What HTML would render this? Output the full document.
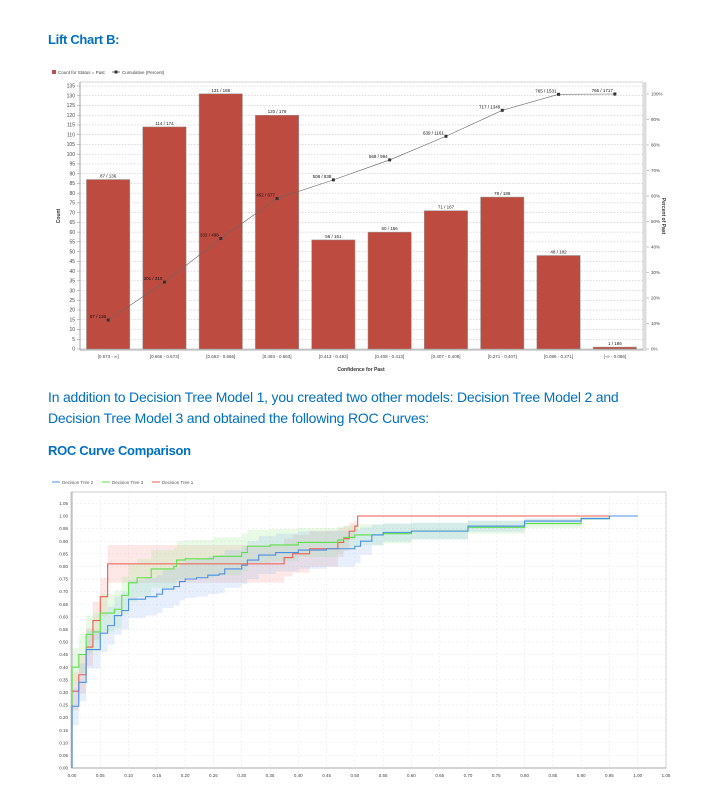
<!DOCTYPE html>
<html><head><meta charset="utf-8">
<style>
body{margin:0;background:#fff;width:718px;height:807px;overflow:hidden;font-family:"Liberation Sans",sans-serif;}
.h{position:absolute;color:#0070C0;font-family:"Liberation Sans",sans-serif;}
svg{position:absolute;left:0;top:0}
svg text{font-family:"Liberation Sans",sans-serif;}
</style></head><body>
<div class="h" style="left:48px;top:32px;font-size:13px;font-weight:bold;letter-spacing:-0.3px">Lift Chart B:</div>
<div class="h" style="left:48px;top:387px;font-size:14px;line-height:21px;letter-spacing:-0.2px;width:680px;white-space:nowrap">In addition to Decision Tree Model 1, you created two other models: Decision Tree Model 2 and<br>Decision Tree Model 3 and obtained the following ROC Curves:</div>
<div class="h" style="left:48px;top:443px;font-size:13px;font-weight:bold;letter-spacing:-0.3px">ROC Curve Comparison</div>
<svg id="lift" width="718" height="380"></svg>
<svg id="roc" width="718" height="807"></svg>
<script>
const categories=["[0.673 - ∞]","[0.666 - 0.673]","[0.663 - 0.666]","[0.493 - 0.663]","[0.413 - 0.493]","[0.408 - 0.413]","[0.407 - 0.408]","[0.271 - 0.407]","[0.086 - 0.271]","[-∞ - 0.086]"];
const counts=[87,114,131,120,56,60,71,78,48,1];
const totals=[136,174,188,179,161,156,167,188,182,186];
const countTicks=[0,5,10,15,20,25,30,35,40,45,50,55,60,65,70,75,80,85,90,95,100,105,110,115,120,125,130,135];
const pctTicks=[0,10,20,30,40,50,60,70,80,90,100];

const NS="http://www.w3.org/2000/svg";
function mk(p,t,a){const e=document.createElementNS(NS,t);for(const k in a)e.setAttribute(k,a[k]);p.appendChild(e);return e;}
function tx(p,x,y,s,a){const e=mk(p,'text',Object.assign({x:x,y:y},a));e.textContent=s;return e;}

(function(){
const s=document.getElementById('lift');
const L=80,R=643,T=82,B=349;
const yC=v=>B-v*(B-86)/135;
const yP=v=>B-v*(B-94)/100;
const bw=(R-L)/categories.length;
const xC=i=>L+bw*(i+0.5);
let g=mk(s,'g',{});
mk(g,'rect',{x:52,y:70,width:4,height:4,fill:'#c0504d'});
tx(g,58,74,'Count for Status = Past',{'font-size':4.5,fill:'#444'});
mk(g,'line',{x1:112,y1:72,x2:120,y2:72,stroke:'#444','stroke-width':0.7});
mk(g,'rect',{x:114.5,y:70.5,width:3,height:3,fill:'#333'});
tx(g,122,74,'Cumulative (Percent)',{'font-size':4.5,fill:'#444'});
mk(s,'rect',{x:L,y:T,width:R-L,height:B-T,fill:'#fff',stroke:'#ccc','stroke-width':0.8});
countTicks.forEach(v=>{const y=yC(v);
 const gl=mk(s,'line',{x1:L,y1:y,x2:R,y2:y,stroke:'#bbb','stroke-width':0.5,'stroke-dasharray':'1.5,1.5'});
 mk(s,'line',{x1:L-3,y1:y,x2:L,y2:y,stroke:'#888','stroke-width':0.5});
 const t=tx(s,L-5,y+1.7,String(v),{'font-size':5,fill:'#444','text-anchor':'end'});});
mk(s,'line',{x1:L,y1:T,x2:L,y2:B+1,stroke:'#999','stroke-width':0.8});
mk(s,'line',{x1:L,y1:B+1,x2:R,y2:B+1,stroke:'#999','stroke-width':0.8});
mk(s,'rect',{x:R,y:T,width:3.5,height:B-T+2,fill:'#ddd'});
pctTicks.forEach(v=>{const y=yP(v);mk(s,'line',{x1:R+3.5,y1:y,x2:R+6,y2:y,stroke:'#888','stroke-width':0.5});
 const t=tx(s,R+8,y+1.7,v+'%',{'font-size':4.5,fill:'#444'});});
const yl=tx(s,0,0,'Count',{'font-size':5,fill:'#333','font-weight':'bold','text-anchor':'middle',transform:'translate(60,216) rotate(-90)'});
const yr=tx(s,0,0,'Percent of Past',{'font-size':5,fill:'#333','font-weight':'bold','text-anchor':'middle',transform:'translate(662,216) rotate(90)'});
const xl=tx(s,361,371,'Confidence for Past',{'font-size':5,fill:'#333','font-weight':'bold','text-anchor':'middle'});
const bwid=bw*0.77;
counts.forEach((c,i)=>{const x=xC(i)-bwid/2,y=yC(c);
 const r=mk(s,'rect',{x:x,y:y,width:bwid,height:B-y,fill:'#be4b3f',stroke:'#999','stroke-width':0.5});
 const t=tx(s,xC(i),y-2,c+' / '+totals[i],{'font-size':4.5,fill:'#222','text-anchor':'middle'});
 const xt=tx(s,xC(i),358,categories[i],{'font-size':4.5,fill:'#444','text-anchor':'middle'});});
const sumC=counts.reduce((a,b)=>a+b,0);
let cc=0,ct=0,pts=[],labs=[];
counts.forEach((c,i)=>{cc+=c;ct+=totals[i];pts.push([xC(i),yP(cc/sumC*100)]);labs.push(cc+' / '+ct);});
const pl=mk(s,'polyline',{points:pts.map(p=>p.join(',')).join(' '),fill:'none',stroke:'#666','stroke-width':0.6});
pts.forEach((p,i)=>{const m=mk(s,'rect',{x:p[0]-1.5,y:p[1]-1.5,width:3,height:3,fill:'#333'});
 const t=tx(s,p[0]-2,p[1]-2,labs[i],{'font-size':4.5,fill:'#111','text-anchor':'end'});});
})();

// ROC data: step-after points [fpr, tpr]
const tree1=[[0,0],[0,0.305],[0.012,0.37],[0.025,0.48],[0.037,0.585],[0.05,0.68],[0.063,0.81],[0.375,0.835],[0.39,0.85],[0.42,0.87],[0.47,0.895],[0.48,0.91],[0.49,0.94],[0.5,0.96],[0.505,1.0],[1,1]];
const tree3=[[0,0],[0,0.40],[0.012,0.45],[0.025,0.53],[0.037,0.54],[0.05,0.615],[0.075,0.63],[0.088,0.685],[0.1,0.735],[0.115,0.755],[0.14,0.79],[0.18,0.8],[0.185,0.825],[0.2,0.83],[0.25,0.84],[0.3,0.855],[0.31,0.88],[0.35,0.885],[0.4,0.895],[0.47,0.905],[0.48,0.915],[0.5,0.925],[0.55,0.93],[0.6,0.94],[0.7,0.955],[0.8,0.97],[0.9,0.99],[0.95,1.0],[1,1]];
const tree2=[[0,0],[0,0.245],[0.012,0.34],[0.025,0.47],[0.05,0.535],[0.063,0.565],[0.075,0.605],[0.088,0.625],[0.1,0.67],[0.13,0.68],[0.15,0.69],[0.16,0.71],[0.18,0.72],[0.19,0.74],[0.2,0.75],[0.22,0.755],[0.24,0.765],[0.26,0.77],[0.27,0.79],[0.3,0.805],[0.31,0.825],[0.33,0.845],[0.36,0.855],[0.4,0.865],[0.45,0.87],[0.5,0.88],[0.51,0.9],[0.53,0.925],[0.55,0.935],[0.6,0.94],[0.7,0.96],[0.8,0.98],[0.9,0.99],[0.95,1.0],[1,1]];
const rocTicks=[0,0.05,0.1,0.15,0.2,0.25,0.3,0.35,0.4,0.45,0.5,0.55,0.6,0.65,0.7,0.75,0.8,0.85,0.9,0.95,1.0,1.05];

(function(){
const s=document.getElementById('roc');
const L=72,R=666,T=492,B=768;
const xS=v=>L+v*(R-L)/1.05;
const yS=v=>B-v*(B-516);
mk(s,'rect',{x:L-1,y:T,width:R-L+1,height:B-T,fill:'#fff',stroke:'#ccc','stroke-width':1});
rocTicks.forEach(v=>{
 const gx=mk(s,'line',{x1:xS(v),y1:T,x2:xS(v),y2:B,stroke:'#e6e6e6','stroke-width':0.5,'stroke-dasharray':'2,2'});
 const gy=mk(s,'line',{x1:L,y1:yS(v),x2:R,y2:yS(v),stroke:'#e6e6e6','stroke-width':0.5,'stroke-dasharray':'2,2'});
 const a=tx(s,xS(v),777,v.toFixed(2),{'font-size':4.5,fill:'#444','text-anchor':'middle'});
 const b=tx(s,L-4,yS(v)+1.6,v.toFixed(2),{'font-size':4.5,fill:'#444','text-anchor':'end'});});
mk(s,'line',{x1:L,y1:T,x2:L,y2:B,stroke:'#bbb','stroke-width':1.2});
mk(s,'line',{x1:L,y1:B,x2:R,y2:B,stroke:'#bbb','stroke-width':1.2});
function stepPath(d){let p='M'+xS(d[0][0])+','+yS(d[0][1]);
 for(let i=1;i<d.length;i++){p+=' H'+xS(d[i][0])+' V'+yS(d[i][1]);}return p;}
function hw(y){return Math.min(0.075,Math.max(0,(1-y)*0.55));}
function band(d){let up=[],dn=[];
 for(let i=0;i<d.length-1;i++){const a=d[i],b=d[i+1];const w=hw(a[1]);const h=Math.min(1.045,a[1]+w),l=Math.max(0.1,a[1]-w);
  up.push([xS(a[0]),yS(h)],[xS(b[0]),yS(h)]);dn.push([xS(a[0]),yS(l)],[xS(b[0]),yS(l)]);}
 return 'M'+up.map(p=>p.join(',')).join(' L')+' L'+dn.reverse().map(p=>p.join(',')).join(' L')+'Z';}
const series=[[tree1,'#ef5b4f','rgba(245,150,145,0.22)','roc-decision-tree-1'],[tree3,'#5ee04a','rgba(150,230,140,0.22)','roc-decision-tree-3'],[tree2,'#4a90e2','rgba(140,180,235,0.22)','roc-decision-tree-2']];
series.forEach(sr=>{const b=mk(s,'path',{d:band(sr[0]),fill:sr[2]});});
series.forEach(sr=>{const l=mk(s,'path',{d:stepPath(sr[0]),fill:'none',stroke:sr[1],'stroke-width':1.1});});
const leg=[['Decision Tree 2','#4a90e2',52],['Decision Tree 3','#5ee04a',102],['Decision Tree 1','#ef5b4f',152]];
leg.forEach(e=>{const g=mk(s,'g',{});
 mk(g,'line',{x1:e[2],y1:482,x2:e[2]+8,y2:482,stroke:e[1],'stroke-width':1});
 tx(g,e[2]+10,484,e[0],{'font-size':4.5,fill:'#555'});});
})();
</script>
</body></html>
